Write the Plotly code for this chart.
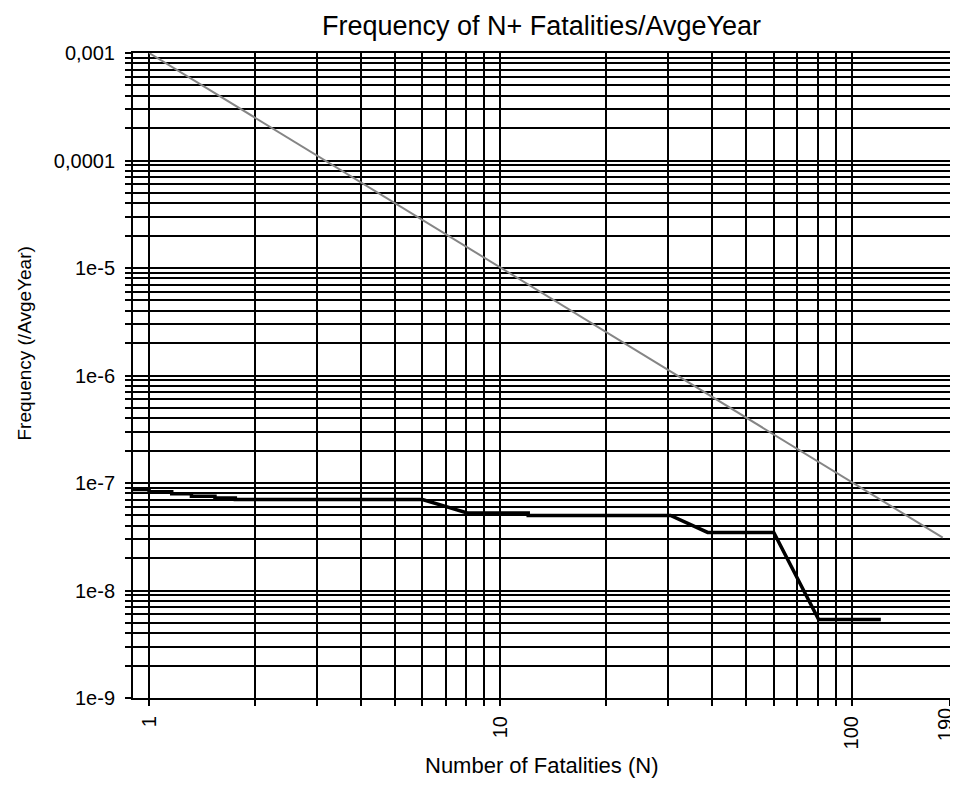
import math
import plotly.graph_objects as go

# ---- data ----
# reference criterion line (grey)
crit_N = [1.0, 181.6]
crit_F = [1.0e-3, 3.1e-8]

# FN curve (black)
fn_N = [0.9, 1.0, 1.0, 1.16, 1.16, 1.32, 1.32, 1.54, 1.54, 1.76, 1.76,
        6.0, 8.05, 12.0, 12.0, 30.5, 38.9, 60.0, 80.5, 121]
fn_F = [8.7e-8, 8.7e-8, 8.28e-8, 8.28e-8, 7.94e-8, 7.94e-8, 7.54e-8, 7.54e-8,
        7.27e-8, 7.27e-8, 7.03e-8, 7.03e-8, 5.26e-8, 5.26e-8, 4.99e-8, 4.99e-8,
        3.47e-8, 3.47e-8, 5.37e-9, 5.37e-9]

x_tickvals = [1, 10, 100, 190]
x_ticktext = ["1", "10", "100", ""]
x_end_label = "190"
x_minor = [2, 3, 4, 5, 6, 7, 8, 9, 20, 30, 40, 50, 60, 70, 80, 90]

y_tickvals = [1e-3, 1e-4, 1e-5, 1e-6, 1e-7, 1e-8, 1e-9]
y_ticktext = ["0,001", "0,0001", "1e-5", "1e-6", "1e-7", "1e-8", "1e-9"]
y_minor = [k * 10.0 ** e for e in range(-9, -3) for k in range(2, 10)]

title_text = "Frequency of N+ Fatalities/AvgeYear"
x_title = "Number of Fatalities (N)"
y_title = "Frequency (/AvgeYear)"

FONT = "Liberation Sans, Arial, sans-serif"

fig = go.Figure()
fig.add_trace(go.Scatter(x=crit_N, y=crit_F, mode="lines",
                         line=dict(color="#858585", width=2),
                         showlegend=False, hoverinfo="skip"))
fig.add_trace(go.Scatter(x=fn_N, y=fn_F, mode="lines",
                         line=dict(color="#000000", width=3.5),
                         showlegend=False))

axis_common = dict(
    type="log", automargin=False,
    showgrid=True, gridcolor="#000000", gridwidth=1.5,
    showline=True, linecolor="#000000", linewidth=2, mirror=True,
    ticks="outside", ticklen=6, tickwidth=1.5, tickcolor="#000000",
    tickfont=dict(family=FONT, size=20, color="#000000"),
    zeroline=False,
)

x_max = 190
fig.update_xaxes(
    **axis_common,
    range=[math.log10(0.9), math.log10(x_max) + 0.001],
    tickmode="array", tickvals=x_tickvals, ticktext=x_ticktext,
    tickangle=-90, ticklabelstandoff=2,
    minor=dict(tickmode="array", tickvals=x_minor, showgrid=True,
               gridcolor="#000000", gridwidth=1.5,
               ticks="outside", ticklen=6, tickwidth=1.5, tickcolor="#000000"),
)
fig.update_yaxes(
    **axis_common,
    range=[-9, -3],
    tickmode="array", tickvals=y_tickvals, ticktext=y_ticktext,
    ticklabelstandoff=6,
    minor=dict(tickmode="array", tickvals=y_minor, showgrid=True,
               gridcolor="#000000", gridwidth=1.5,
               ticks="outside", ticklen=6, tickwidth=1.5, tickcolor="#000000"),
)

# end-of-axis tick label, kept inside the page edge
fig.add_annotation(text=x_end_label, xref="x", yref="paper", x=math.log10(x_max), y=0,
                   xanchor="right", yanchor="top", xshift=8, yshift=-8,
                   textangle=-90, showarrow=False,
                   font=dict(family=FONT, size=20, color="#000000"))

fig.add_annotation(text=x_title, xref="paper", yref="paper", x=0.5, y=-0.1047,
                   xanchor="center", yanchor="middle", showarrow=False,
                   font=dict(family=FONT, size=22, color="#000000"))
fig.add_annotation(text=y_title, xref="paper", yref="paper", x=-0.1322, y=0.5496,
                   xanchor="center", yanchor="middle", showarrow=False, textangle=-90,
                   font=dict(family=FONT, size=19, color="#000000"))

fig.update_layout(
    width=950, height=779,
    margin=dict(l=125, r=8, t=45, b=89),
    paper_bgcolor="#ffffff", plot_bgcolor="#ffffff",
    title=dict(text=title_text, x=0.5, xref="paper", y=1 - 18 / 779,
               yref="container", xanchor="center", yanchor="middle",
               font=dict(family=FONT, size=27, color="#000000")),
    showlegend=False,
)

fig.write_html("out.html")
